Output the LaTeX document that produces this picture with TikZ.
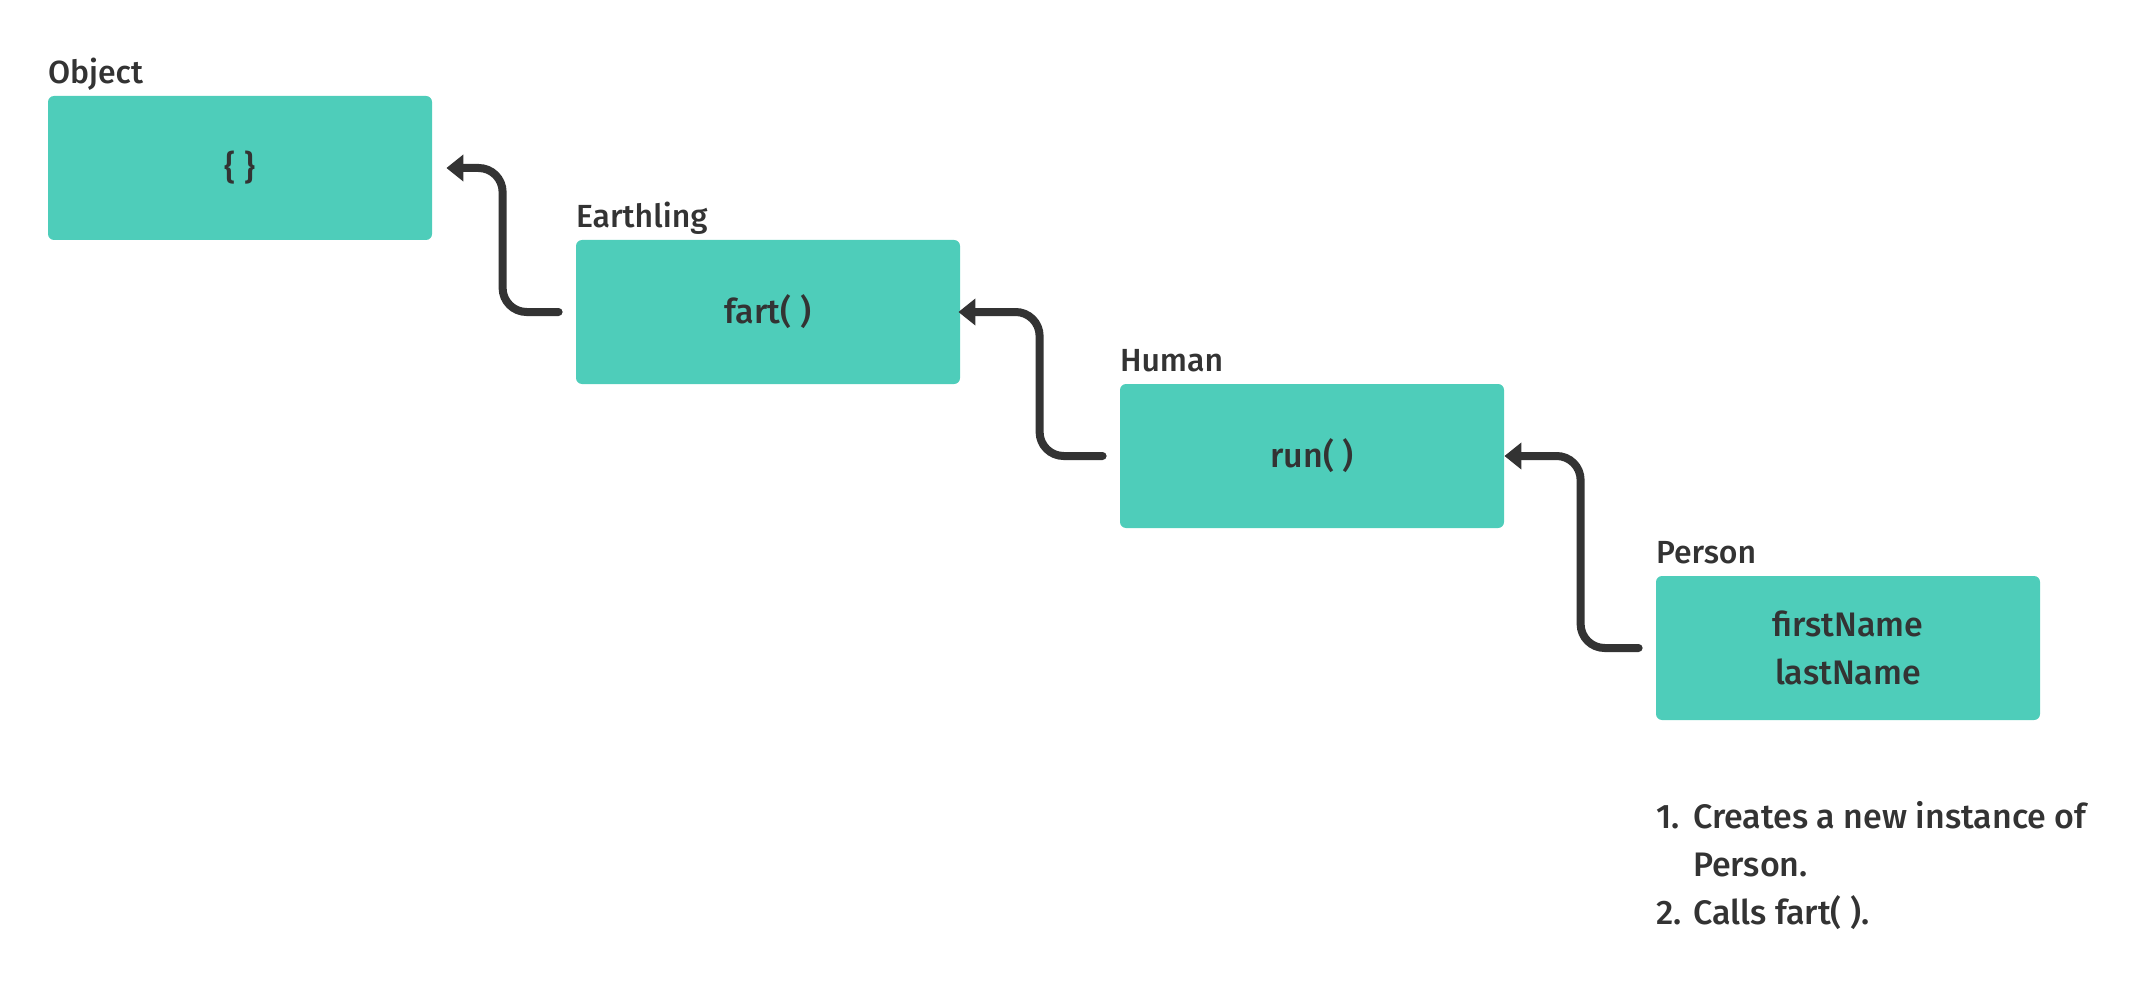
\documentclass[tikz,border=0pt]{standalone}
\usepackage{fontspec}
\setmainfont{Fira Sans}[UprightFont=* Medium]
\usetikzlibrary{arrows.meta}
\definecolor{mint}{HTML}{4ECDBA}
\definecolor{ink}{HTML}{333333}
\tikzstyle{box}=[fill=mint,rounded corners=3pt,minimum width=192pt,minimum height=72pt,inner sep=0pt,align=center,text=ink,font=\fontsize{17}{24}\selectfont]
\tikzstyle{title}=[anchor=base west,inner sep=0pt,text=ink,font=\fontsize{16}{24}\selectfont]
\tikzstyle{link}=[draw=ink,line width=4pt,line cap=round,rounded corners=12pt,-{Triangle[length=8.5pt,width=13pt]}]

\begin{document}
\begin{tikzpicture}[x=0.5pt,y=-0.5pt]
\useasboundingbox (0,0) rectangle (2150,984);
  \node[box] (object) at (240,168) {\{ \}};
  \node[box] (earthling) at (768,312) {fart( )};
  \node[box] (human) at (1312,456) {run( )};
  \node[box] (person) at (1848,648) {firstName\\lastName};
\node[title] (objectname) at ([yshift=6pt]object.north west) {Object};
\node[title] (earthlingname) at ([yshift=6pt]earthling.north west) {Earthling};
\node[title] (humanname) at ([yshift=6pt]human.north west) {Human};
\node[title] (personname) at ([yshift=6pt]person.north west) {Person};
% prototype chain
\draw[link] ([xshift=-8.5pt]earthling.west) -- ++(-28pt,0) |- ([xshift=7pt]object.east);
\draw[link] ([xshift=-8.5pt]human.west) -- ++(-31.5pt,0) |- ([xshift=-1pt]earthling.east);
\draw[link] ([xshift=-8.5pt]person.west) -- ++(-29pt,0) |- (human.east);
% note
\node[title,font=\fontsize{17}{24}\selectfont] (note) at (1656,828) {\begin{tabular}[t]{@{}l@{ }l@{}}1.&Creates a new instance of\\&Person.\\2.&Calls fart( ).\end{tabular}};
\end{tikzpicture}
\end{document}
